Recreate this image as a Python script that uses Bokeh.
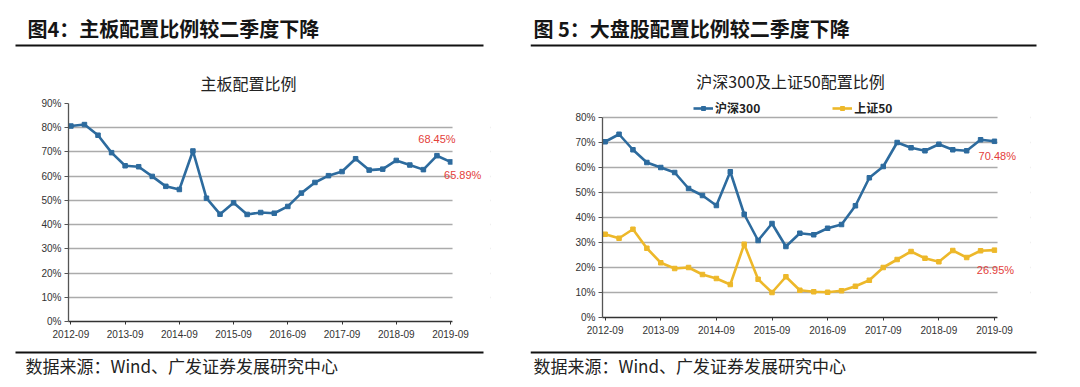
from bokeh.plotting import figure
from bokeh.models import (Range1d, FixedTicker, Label, Legend, LegendItem, PrintfTickFormatter,
                          ColumnDataSource, BoxAnnotation)
from bokeh.layouts import row, column
from bokeh.core.properties import value
from bokeh.embed import file_html
from bokeh.resources import INLINE

# ---------------- data ----------------
quarters = ["2012-09", "2012-12", "2013-03", "2013-06", "2013-09", "2013-12", "2014-03", "2014-06",
            "2014-09", "2014-12", "2015-03", "2015-06", "2015-09", "2015-12", "2016-03", "2016-06",
            "2016-09", "2016-12", "2017-03", "2017-06", "2017-09", "2017-12", "2018-03", "2018-06",
            "2018-09", "2018-12", "2019-03", "2019-06", "2019-09"]
tick_labels = ["2012-09", "2013-09", "2014-09", "2015-09", "2016-09", "2017-09", "2018-09", "2019-09"]

main_board = [80.7, 81.3, 76.9, 69.7, 64.3, 63.9, 59.9, 55.8, 54.5, 70.4, 50.9, 44.3, 49.0, 44.2, 45.0,
              44.7, 47.5, 53.0, 57.4, 60.2, 61.9, 67.2, 62.5, 62.9, 66.5, 64.6, 62.7, 68.45, 65.89]
hs300 = [70.3, 73.3, 67.1, 62.0, 60.0, 58.0, 51.6, 48.8, 44.8, 58.3, 41.3, 30.8, 37.6, 28.4, 33.7,
         33.1, 35.7, 37.2, 44.7, 55.9, 60.4, 70.0, 67.9, 66.7, 69.3, 67.1, 66.7, 71.1, 70.48]
sz50 = [33.3, 31.7, 35.3, 27.7, 21.9, 19.6, 20.0, 17.2, 15.6, 13.2, 29.3, 15.3, 10.0, 16.3, 10.9,
        10.3, 10.1, 10.7, 12.5, 14.9, 20.0, 23.2, 26.4, 23.7, 22.3, 26.8, 24.0, 26.7, 26.95]

left_header = "图4：主板配置比例较二季度下降"
right_header = "图 5：大盘股配置比例较二季度下降"
left_title = "主板配置比例"
right_title = "沪深300及上证50配置比例"
source_note = "数据来源：Wind、广发证券发展研究中心"
series_names = ["沪深300", "上证50"]

# ---------------- style ----------------
BLUE = "#2D6B9E"
YELLOW = "#EDB82A"
RED = "#E3403A"
GRID = "#ABABAB"
CJK = "Noto Sans CJK SC"
LAT = "Liberation Sans"

x_idx = list(range(len(quarters)))
tick_pos = [quarters.index(t) for t in tick_labels]
overrides = {p: t for p, t in zip(tick_pos, tick_labels)}


def blank(width, height):
    p = figure(width=width, height=height, output_backend="svg", toolbar_location=None,
               x_range=Range1d(0, width), y_range=Range1d(height, 0),
               min_border=0, min_border_left=0, min_border_right=0, min_border_top=0, min_border_bottom=0)
    p.frame_align = False
    p.axis.visible = False
    p.grid.visible = False
    p.outline_line_color = None
    p.background_fill_color = "white"
    p.border_fill_color = "white"
    return p


def header(width, height, text, tx, rule_x0, rule_x1, title, title_x, title_y):
    p = blank(width, height)
    p.text(x=[tx], y=[28], text=[text], text_font=value(CJK), text_font_size="20px",
           text_font_style="bold", text_color="#151515", text_baseline="middle", text_align="left")
    p.segment(x0=[rule_x0], y0=[45], x1=[rule_x1], y1=[45], line_color="#111111", line_width=2)
    p.text(x=[title_x], y=[title_y], text=[title], text_font=value(CJK), text_font_size="16px",
           text_color="#222222", text_baseline="middle", text_align="center")
    return p


def footer(width, height, tx, rule_x0, rule_x1):
    p = blank(width, height)
    p.segment(x0=[rule_x0], y0=[7], x1=[rule_x1], y1=[7], line_color="#111111", line_width=2)
    p.text(x=[tx], y=[20], text=[source_note], text_font=value(CJK), text_font_size="17px",
           text_color="#222222", text_baseline="middle", text_align="left")
    return p


def chart(width, height, ymax, ytop, xr, xbounds, borders):
    l, r, t, b = borders
    p = figure(width=width, height=height, output_backend="svg", toolbar_location=None,
               x_range=Range1d(*xr), y_range=Range1d(0, ytop),
               min_border_left=l, min_border_right=r, min_border_top=t, min_border_bottom=b)
    p.frame_align = False
    p.outline_line_color = None
    p.background_fill_color = "white"
    p.border_fill_color = "white"
    p.xgrid.visible = False
    p.ygrid.ticker = FixedTicker(ticks=list(range(0, ymax + 1, 10)))
    p.ygrid.grid_line_color = GRID
    p.ygrid.grid_line_width = 1.6
    p.yaxis.ticker = FixedTicker(ticks=list(range(0, ymax + 1, 10)))
    p.yaxis.formatter = PrintfTickFormatter(format="%d%%")
    p.yaxis.bounds = (0, ymax)
    p.xaxis.ticker = FixedTicker(ticks=tick_pos)
    p.xaxis.major_label_overrides = overrides
    p.xaxis.bounds = xbounds
    for ax in (p.xaxis[0], p.yaxis[0]):
        ax.minor_tick_line_color = None
        ax.major_tick_in = 0
        ax.major_label_text_font = LAT
        ax.major_label_text_font_size = "10px"
        ax.major_label_text_color = "#333333"
    p.xaxis.major_tick_out = 3
    p.xaxis.major_label_standoff = 5
    p.xaxis.axis_line_color = "#333333"
    p.xaxis.axis_line_width = 1.5
    p.xaxis.major_tick_line_color = "#333333"
    p.yaxis.major_tick_out = 4
    p.yaxis.major_label_standoff = 3
    p.yaxis.axis_line_color = "#555555"
    p.yaxis.axis_line_width = 1.3
    p.yaxis.major_tick_line_color = "#555555"
    # white mask past the end of the plotted period, so the grid stops there
    p.add_layout(BoxAnnotation(left=xbounds[1], fill_color="white", fill_alpha=1.0, line_color=None))
    return p


def red_label(p, x, y, text):
    p.add_layout(Label(x=x, y=y, text=text, text_align="center", text_baseline="middle",
                       text_color=RED, text_font=LAT, text_font_size="11px"))


# ---------------- left panel ----------------
LW, RW = 530, 550
HEAD_H, CHART_H, FOOT_H = 95, 250, 42

headL = header(LW, HEAD_H, left_header, 27, 15, 483, left_title, 248, 82)
chL = chart(LW, CHART_H, 90, 90, (-0.177, 30.95), (-0.177, 28.15), (68, 40, 8, 24))
srcL = ColumnDataSource(dict(x=x_idx, y=main_board))
chL.line("x", "y", source=srcL, line_color=BLUE, line_width=2.6)
chL.scatter("x", "y", source=srcL, marker="square", size=4.5, color=BLUE)
red_label(chL, 27.0, 75.5, "68.45%")
red_label(chL, 28.9, 60.3, "65.89%")
footL = footer(LW, FOOT_H, 25, 15, 483)

# ---------------- right panel ----------------
headR = header(RW, HEAD_H, right_header, 3, 0, 506, right_title, 260, 80)
chR = chart(RW, CHART_H, 80, 86.8, (-0.19, 30.59), (-0.19, 28.22), (72, 50, 5, 28))
srcB = ColumnDataSource(dict(x=x_idx, y=hs300))
srcY = ColumnDataSource(dict(x=x_idx, y=sz50))
lb = chR.line("x", "y", source=srcB, line_color=BLUE, line_width=2.6)
sb = chR.scatter("x", "y", source=srcB, marker="square", size=4.5, color=BLUE)
ly = chR.line("x", "y", source=srcY, line_color=YELLOW, line_width=2.6)
sy = chR.scatter("x", "y", source=srcY, marker="square", size=4.5, color=YELLOW)
red_label(chR, 28.2, 64.7, "70.48%")
red_label(chR, 28.07, 19.1, "26.95%")
legend = Legend(items=[LegendItem(label=series_names[0], renderers=[lb, sb]),
                       LegendItem(label=series_names[1], renderers=[ly, sy])],
                orientation="horizontal", location=(91, 201))
legend.label_text_font = CJK
legend.label_text_font_size = "12px"
legend.label_text_font_style = "bold"
legend.label_text_color = "#222222"
legend.glyph_width = 20
legend.glyph_height = 10
legend.spacing = 72
legend.padding = 0
legend.margin = 0
legend.label_standoff = 2
legend.border_line_color = None
legend.background_fill_alpha = 0
chR.add_layout(legend)
footR = footer(RW, FOOT_H, 3, 0, 506)

layout = row(column(headL, chL, footL, spacing=0), column(headR, chR, footR, spacing=0), spacing=0)

with open("out.html", "w") as f:
    f.write(file_html(layout, INLINE))
